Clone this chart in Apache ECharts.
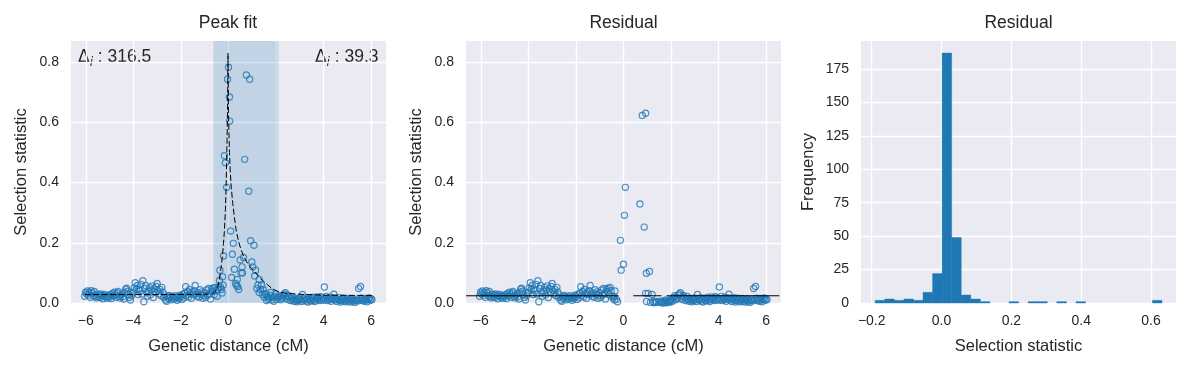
<!DOCTYPE html>
<html><head><meta charset="utf-8">
<script src="https://cdn.jsdelivr.net/npm/echarts@6/dist/echarts.min.js"></script>
<style>html,body{margin:0;padding:0;background:#fff}#c{width:1191px;height:368px}</style>
</head><body><div id="c"></div>
<script>
// ---------------- DATA ----------------
const panelTitles = ['Peak fit', 'Residual', 'Residual'];
const xAxisNames = ['Genetic distance (cM)', 'Genetic distance (cM)', 'Selection statistic'];
const yAxisNames = ['Selection statistic', 'Selection statistic', 'Frequency'];
const deltaLeft = '316.5';
const deltaRight = '39.3';
const shadeRange = [-0.63, 2.10];

// points left of the peak (same in both scatter panels)
const leftX = [-6.05,-6.01,-5.97,-5.93,-5.89,-5.85,-5.81,-5.77,-5.72,-5.68,-5.64,-5.60,-5.56,-5.52,-5.48,-5.44,-5.40,-5.36,-5.32,-5.28,-5.24,-5.20,-5.16,-5.12,-5.08,-5.04,
 -5.00,-4.96,-4.92,-4.88,-4.84,-4.80,-4.76,-4.72,-4.68,-4.64,-4.60,-4.56,-4.52,-4.48,-4.44,-4.40,-4.36,-4.32,-4.28,-4.24,-4.20,-4.16,-4.12,-4.08,-4.04,
 -4.00,-3.96,-3.92,-3.88,-3.84,-3.80,-3.76,-3.72,-3.68,-3.64,-3.60,-3.56,-3.52,-3.48,-3.44,-3.40,-3.36,-3.32,-3.28,-3.24,-3.20,-3.16,-3.12,-3.08,-3.04,
 -3.00,-2.96,-2.92,-2.88,-2.84,-2.80,-2.76,-2.72,-2.68,-2.64,-2.60,-2.56,-2.52,-2.48,-2.44,-2.40,-2.36,-2.32,-2.28,-2.24,-2.20,-2.16,-2.12,-2.08,-2.04,
 -2.00,-1.96,-1.92,-1.88,-1.84,-1.80,-1.76,-1.72,-1.68,-1.64,-1.60,-1.56,-1.52,-1.48,-1.44,-1.40,-1.36,-1.32,-1.28,-1.24,-1.20,-1.16,-1.12,-1.08,-1.04,
 -1.00,-0.96,-0.92,-0.88,-0.84,-0.80,-0.76,-0.72,-0.68,-0.64,-0.60,-0.56,-0.52,-0.48];
const leftY = [0.022,0.036,0.030,0.040,0.026,0.034,0.019,0.041,0.033,0.024,0.038,0.022,0.017,0.029,0.021,0.027,0.018,0.030,0.025,0.014,0.022,0.028,0.019,0.024,0.016,0.023,
 0.020,0.028,0.015,0.031,0.024,0.036,0.027,0.019,0.033,0.038,0.022,0.017,0.026,0.030,0.021,0.013,0.035,0.046,0.049,0.039,0.028,0.018,0.010,0.024,0.032,
 0.036,0.050,0.067,0.045,0.058,0.028,0.047,0.040,0.062,0.030,0.074,0.004,0.048,0.058,0.034,0.022,0.038,0.052,0.027,0.043,0.057,0.018,0.047,0.035,0.055,
 0.065,0.041,0.030,0.046,0.024,0.052,0.036,0.018,0.027,0.010,0.006,0.021,0.014,0.025,0.019,0.011,0.022,0.017,0.013,0.024,0.018,0.009,0.020,0.015,0.026,
 0.021,0.012,0.028,0.017,0.033,0.054,0.025,0.038,0.020,0.045,0.031,0.016,0.036,0.027,0.041,0.058,0.030,0.022,0.034,0.019,0.044,0.028,0.037,0.016,0.025,
 0.034,0.018,0.043,0.026,0.048,0.030,0.013,0.046,0.038,0.050,0.027,0.052,0.041,0.022];

// points right of the peak (same in both scatter panels)
const rightX = [2.11,2.15,2.19,2.23,2.27,2.31,2.35,2.39,2.43,2.47,2.51,2.55,2.59,2.63,2.67,2.71,2.75,2.79,2.83,2.87,2.91,2.95,2.99,
 3.03,3.07,3.11,3.15,3.19,3.23,3.27,3.31,3.35,3.39,3.43,3.47,3.51,3.55,3.59,3.63,3.67,3.71,3.75,3.79,3.83,3.87,3.91,3.95,3.99,
 4.03,4.07,4.11,4.15,4.19,4.23,4.27,4.31,4.35,4.39,4.43,4.47,4.51,4.55,4.59,4.63,4.67,4.71,4.75,4.79,4.83,4.87,4.91,4.95,4.99,
 5.03,5.07,5.11,5.15,5.19,5.23,5.27,5.31,5.35,5.39,5.43,5.47,5.51,5.55,5.59,5.63,5.67,5.71,5.75,5.79,5.83,5.87,5.91,5.95,5.99,6.03];
const rightY = [0.018,0.024,0.011,0.020,0.015,0.026,0.030,0.034,0.017,0.012,0.025,0.019,0.008,0.015,0.022,0.011,0.006,0.016,0.010,0.004,0.013,0.008,0.017,
 0.011,0.005,0.028,0.014,0.009,0.018,0.006,0.012,0.003,0.016,0.010,0.007,0.014,0.019,0.009,0.005,0.013,0.020,0.011,0.016,0.008,0.021,0.012,0.017,0.009,
 0.053,0.014,0.022,0.008,0.015,0.011,0.019,0.006,0.013,0.017,0.029,0.010,0.015,0.005,0.012,0.018,0.008,0.003,0.011,0.016,0.007,0.013,0.004,0.010,0.015,
 0.006,0.012,0.003,0.009,0.014,0.005,0.011,0.002,0.008,0.013,0.007,0.048,0.010,0.055,0.016,0.008,0.013,0.006,0.015,0.010,0.004,0.012,0.017,0.009,0.014,0.011];

// points inside the peak window, panel 1 (observed)
const peakX = [-0.44,-0.40,-0.38,-0.36,-0.33,-0.30,-0.27,-0.25,-0.23,-0.21,-0.17,-0.13,-0.08,-0.04,0.00,0.04,0.05,0.09,0.13,0.16,0.20,0.25,0.30,0.34,0.37,0.39,0.43,
 0.49,0.53,0.57,0.59,0.63,0.68,0.75,0.85,0.89,0.93,0.98,1.02,1.07,1.10,1.14,1.19,1.24,1.29,1.29,1.34,1.39,1.43,1.46,1.50,1.54,1.57,1.60,1.64,1.68,1.71,1.75,1.78,1.82,1.86,1.90,1.94,1.99,2.03,2.07];
const peakY = [0.046,0.055,0.075,0.109,0.052,0.045,0.033,0.087,0.059,0.156,0.489,0.466,0.384,0.743,0.783,0.684,0.604,0.239,0.085,0.162,0.198,0.112,0.065,0.058,0.078,0.054,0.045,
 0.143,0.100,0.120,0.100,0.151,0.477,0.757,0.371,0.743,0.207,0.136,0.120,0.192,0.090,0.109,0.048,0.060,0.078,0.035,0.045,0.059,0.028,0.045,0.020,0.032,0.028,0.008,0.022,0.012,0.017,0.025,0.035,0.010,0.018,0.006,0.022,0.031,0.012,0.020];

// residuals inside the peak window, panel 2
const residPeakX = [-0.44,-0.40,-0.38,-0.36,-0.30,-0.25,-0.13,-0.10,0.00,0.04,0.08,0.64,0.69,0.79,0.87,0.93,0.93,0.96,0.97,1.04,1.09,1.13,1.20,1.24,1.29,1.34,1.39,1.43,1.50,1.54,1.60,1.64,1.68,1.71,1.75,1.78,1.82,1.86,1.90,1.94,1.99,2.03,2.07];
const residPeakY = [0.016,0.022,0.010,0.040,0.012,0.004,0.208,0.109,0.129,0.291,0.384,-0.001,0.329,0.623,0.252,0.630,0.032,0.099,0.005,0.032,0.105,0.002,0.028,0.004,0.001,0.006,0.002,-0.002,0.003,0.006,0.001,0.004,0.000,0.008,0.003,0.010,0.001,0.006,0.002,0.007,0.012,0.004,0.009];

// fitted peak curve (dashed)
const fitX = [-6.05,-3.00,-1.00,-0.66,-0.55,-0.45,-0.40,-0.34,-0.30,-0.25,-0.21,-0.17,-0.13,-0.10,-0.06,-0.04,-0.02,0.00,0.02,0.04,0.07,0.12,0.18,0.25,0.32,0.42,0.53,0.65,0.80,0.97,1.15,1.35,1.57,1.80,2.06,2.40,3.00,4.00,6.05];
const fitY = [0.028,0.028,0.029,0.031,0.038,0.055,0.072,0.100,0.125,0.160,0.198,0.243,0.310,0.387,0.540,0.640,0.830,0.640,0.560,0.500,0.442,0.380,0.331,0.283,0.243,0.205,0.176,0.153,0.132,0.114,0.099,0.081,0.065,0.050,0.038,0.032,0.029,0.026,0.025];

// residual baseline (dashed segments)
const residBase = 0.024;
const residBaseSegs = [[-6.62, -0.21], [0.41, 1.60], [1.81, 6.55]];

// histogram of residuals
const histLo = -0.19, histHi = 0.6315;
const histCounts = [2,3,2,3,2,8,22,187,49,6,3,1,0,0,1,0,1,1,0,1,0,1,0,0,0,0,0,0,0,2];

// ---------------- CHART ----------------
const FONT = '"Liberation Sans", Arial, sans-serif';
const TXT = '#262626';
const BLUE = '#1f77b4';
const zip = (a, b) => a.map((v, i) => [v, b[i]]);
const fmt = d => v => (v < -1e-9 ? '\u2212' : '') + Math.abs(v).toFixed(d);

const gridLefts = [71, 466, 861];
const grids = gridLefts.map(l => ({left: l, top: 41, width: 315, height: 262, show: true,
  backgroundColor: '#EAEAF2', borderWidth: 0, containLabel: false}));

function xAx(i, min, max, split, dec) {
  return {gridIndex: i, type: 'value', min, max, splitNumber: split,
    axisLine: {show: false}, axisTick: {show: false},
    splitLine: {show: true, showMinLine: false, showMaxLine: false, lineStyle: {color: '#fff', width: 1.4}},
    axisLabel: {formatter: fmt(dec), color: TXT, fontSize: 14, fontFamily: FONT, margin: 11.5, showMinLabel: false, showMaxLabel: false},
    name: xAxisNames[i], nameLocation: 'middle', nameGap: 35,
    nameTextStyle: {color: TXT, fontSize: 16.5, fontFamily: FONT}};
}
function yAx(i, max, interval, dec, gap) {
  return {gridIndex: i, type: 'value', min: 0, max, interval,
    axisLine: {show: false}, axisTick: {show: false},
    splitLine: {show: true, showMaxLine: false, lineStyle: {color: '#fff', width: 1.4}},
    axisLabel: {formatter: fmt(dec), color: TXT, fontSize: 14, fontFamily: FONT, margin: 12, showMaxLabel: false},
    name: yAxisNames[i], nameLocation: 'middle', nameGap: gap, nameRotate: 90,
    nameTextStyle: {color: TXT, fontSize: 16.5, fontFamily: FONT}};
}

const edges = histCounts.map((c, i) => histLo + (histHi - histLo) * i / histCounts.length);
const histData = histCounts.map((c, i) => [edges[i], histLo + (histHi - histLo) * (i + 1) / histCounts.length, c]);

const scatterStyle = {symbol: 'circle', symbolSize: 6.2,
  itemStyle: {color: 'rgba(0,0,0,0)', borderColor: BLUE, borderWidth: 1.2}, z: 3, silent: true};

const series = [
  {type: 'line', xAxisIndex: 0, yAxisIndex: 0, data: [[shadeRange[0], 0], [shadeRange[1], 0]],
   showSymbol: false, lineStyle: {opacity: 0}, z: 1, silent: true,
   markArea: {silent: true, itemStyle: {color: 'rgba(31,119,180,0.2)'},
     data: [[{xAxis: shadeRange[0]}, {xAxis: shadeRange[1]}]]}},
  Object.assign({type: 'scatter', xAxisIndex: 0, yAxisIndex: 0,
    data: zip(leftX, leftY).concat(zip(peakX, peakY), zip(rightX, rightY))}, scatterStyle),
  {type: 'line', xAxisIndex: 0, yAxisIndex: 0, data: zip(fitX, fitY), showSymbol: false, z: 4, silent: true,
   lineStyle: {color: '#000', width: 1, type: [6, 2.5]}},
  Object.assign({type: 'scatter', xAxisIndex: 1, yAxisIndex: 1,
    data: zip(leftX, leftY).concat(zip(residPeakX, residPeakY), zip(rightX, rightY))}, scatterStyle),
  ...residBaseSegs.map(s => ({type: 'line', xAxisIndex: 1, yAxisIndex: 1,
    data: [[s[0], residBase], [s[1], residBase]], showSymbol: false, z: 4, silent: true,
    lineStyle: {color: '#000', width: 1}})),
  {type: 'custom', xAxisIndex: 2, yAxisIndex: 2, data: histData, silent: true, z: 3,
   encode: {x: [0, 1], y: 2},
   renderItem(params, api) {
     const c = api.value(2);
     if (!c) return null;
     const p0 = api.coord([api.value(0), c]);
     const p1 = api.coord([api.value(1), 0]);
     return {type: 'rect', shape: {x: p0[0], y: p0[1], width: p1[0] - p0[0], height: p1[1] - p0[1]},
       style: {fill: BLUE, stroke: BLUE, lineWidth: 0.4}};
   }}
];

const titleCenters = [228, 623.5, 1018.5];
const graphics = panelTitles.map((t, i) => ({type: 'text', x: titleCenters[i], y: 22.7,
  style: {text: t, align: 'center', verticalAlign: 'middle', fill: TXT, fontSize: 17.5, fontFamily: FONT}}));
const deltaRich = {
  d: {fontFamily: 'DejaVu Sans', fontStyle: 'normal', fontSize: 17, fill: TXT, verticalAlign: 'middle'},
  s: {fontFamily: 'DejaVu Sans', fontStyle: 'italic', fontSize: 12, fill: TXT, verticalAlign: 'bottom'},
  t: {fontFamily: FONT, fontSize: 17.5, fill: TXT, verticalAlign: 'middle'}
};
graphics.push({type: 'text', x: 78, y: 57.3, style: {text: '{d|\u0394}{s|i}{t| : ' + deltaLeft + '}',
  rich: deltaRich, align: 'left', verticalAlign: 'middle', lineHeight: 23}});
graphics.push({type: 'text', x: 378.5, y: 57.3, style: {text: '{d|\u0394}{s|i}{t| : ' + deltaRight + '}',
  rich: deltaRich, align: 'right', verticalAlign: 'middle', lineHeight: 23}});

const chart = echarts.init(document.getElementById('c'), null, {renderer: 'canvas'});
chart.setOption({
  animation: false,
  backgroundColor: '#fff',
  grid: grids,
  xAxis: [xAx(0, -6.62, 6.62, 6, 0), xAx(1, -6.62, 6.62, 6, 0), xAx(2, -0.2307, 0.6716, 5, 1)],
  yAxis: [yAx(0, 0.87, 0.2, 1, 41), yAx(1, 0.87, 0.2, 1, 41.5), yAx(2, 196, 25, 0, 44)],
  series,
  graphic: graphics
});
</script></body></html>
